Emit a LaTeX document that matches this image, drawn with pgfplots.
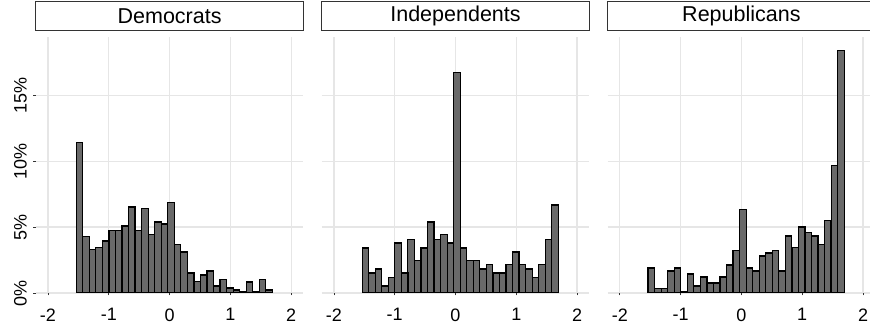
\documentclass[border=0pt]{standalone}
\usepackage{pgfplots}
\usepackage{pgfplotstable}
\pgfplotsset{compat=1.18}
\usepackage{fontspec}
\setmainfont{Liberation Sans}
\definecolor{barfill}{HTML}{696969}
\definecolor{gridc}{HTML}{E6E6E6}
\definecolor{stripc}{HTML}{333333}

\pgfplotstableread{
x dem ind rep
-1.481 11.40 3.42 1.90
-1.374 4.28 1.52 0.33
-1.266 3.27 1.82 0.33
-1.159 3.47 0.53 1.67
-1.051 3.95 1.19 1.90
-0.944 4.76 3.80 0.10
-0.836 4.76 1.52 1.44
-0.729 5.09 4.08 0.53
-0.621 6.53 2.48 1.22
-0.514 4.76 3.42 0.76
-0.406 6.38 5.39 0.76
-0.299 4.43 4.08 1.22
-0.191 5.39 4.41 2.13
-0.084 5.24 3.80 3.22
0.024 6.84 16.72 6.33
0.131 3.65 3.42 1.90
0.239 3.11 2.48 1.67
0.346 1.52 2.48 2.81
0.454 0.86 1.82 3.04
0.561 1.37 2.15 3.22
0.669 1.67 1.52 1.67
0.776 0.53 1.52 4.33
0.884 1.01 2.15 3.44
0.991 0.38 3.11 5.01
1.099 0.23 2.15 4.56
1.206 0.10 1.82 4.33
1.314 0.84 1.19 3.67
1.421 0.08 2.15 5.47
1.529 1.01 4.08 9.67
1.636 0.23 6.68 18.38
}\hist

\pgfplotsset{
  panel/.style={
    at={(#1,31pt)}, anchor=south west,
    width=267.6pt, height=256pt, scale only axis,
    xmin=-2.2, xmax=2.2, ymin=0, ymax=19.42,
    xtick={-2,-1,0,1,2}, xticklabels={-2,-1,0,1,2},
    ytick={0,5,10,15},
    grid=major, major grid style={gridc, line width=1.3pt},
    axis line style={draw=none},
    tick style={color=stripc, line width=0.6pt},
    major tick length=2.5pt, tick align=outside,
    xtick pos=bottom, ytick pos=left,
    ticklabel style={font=\fontsize{18}{20}\selectfont},
    xticklabel shift=9.5pt,
    title style={at={(0.5,1)}, anchor=south, draw=stripc, line width=0.8pt,
      fill=white, minimum width=267.6pt, minimum height=29.3pt, inner sep=0pt,
      font=\fontsize{21.5}{24}\selectfont, yshift=0pt},
    ybar, bar width=0.1075, bar shift=0pt,
  },
  bars/.style={fill=barfill, draw=black, line width=1.2pt},
}

\begin{document}
\begin{tikzpicture}
\begin{axis}[panel=35.8pt, title={Democrats},
  yticklabels={0\%,5\%,10\%,15\%},
  yticklabel style={rotate=90, anchor=south},
  yticklabel shift=3pt]
\addplot[bars] table[x=x, y=dem] {\hist};
\end{axis}
\begin{axis}[panel=321.7pt, title={Independents},
  yticklabels={}, every y tick/.append style={draw=none}]
\addplot[bars] table[x=x, y=ind] {\hist};
\end{axis}
\begin{axis}[panel=607.6pt, title={Republicans},
  yticklabels={}, every y tick/.append style={draw=none}]
\addplot[bars] table[x=x, y=rep] {\hist};
\end{axis}
\pgfresetboundingbox
\useasboundingbox (0,0) rectangle (870pt,324pt);
\end{tikzpicture}
\end{document}
